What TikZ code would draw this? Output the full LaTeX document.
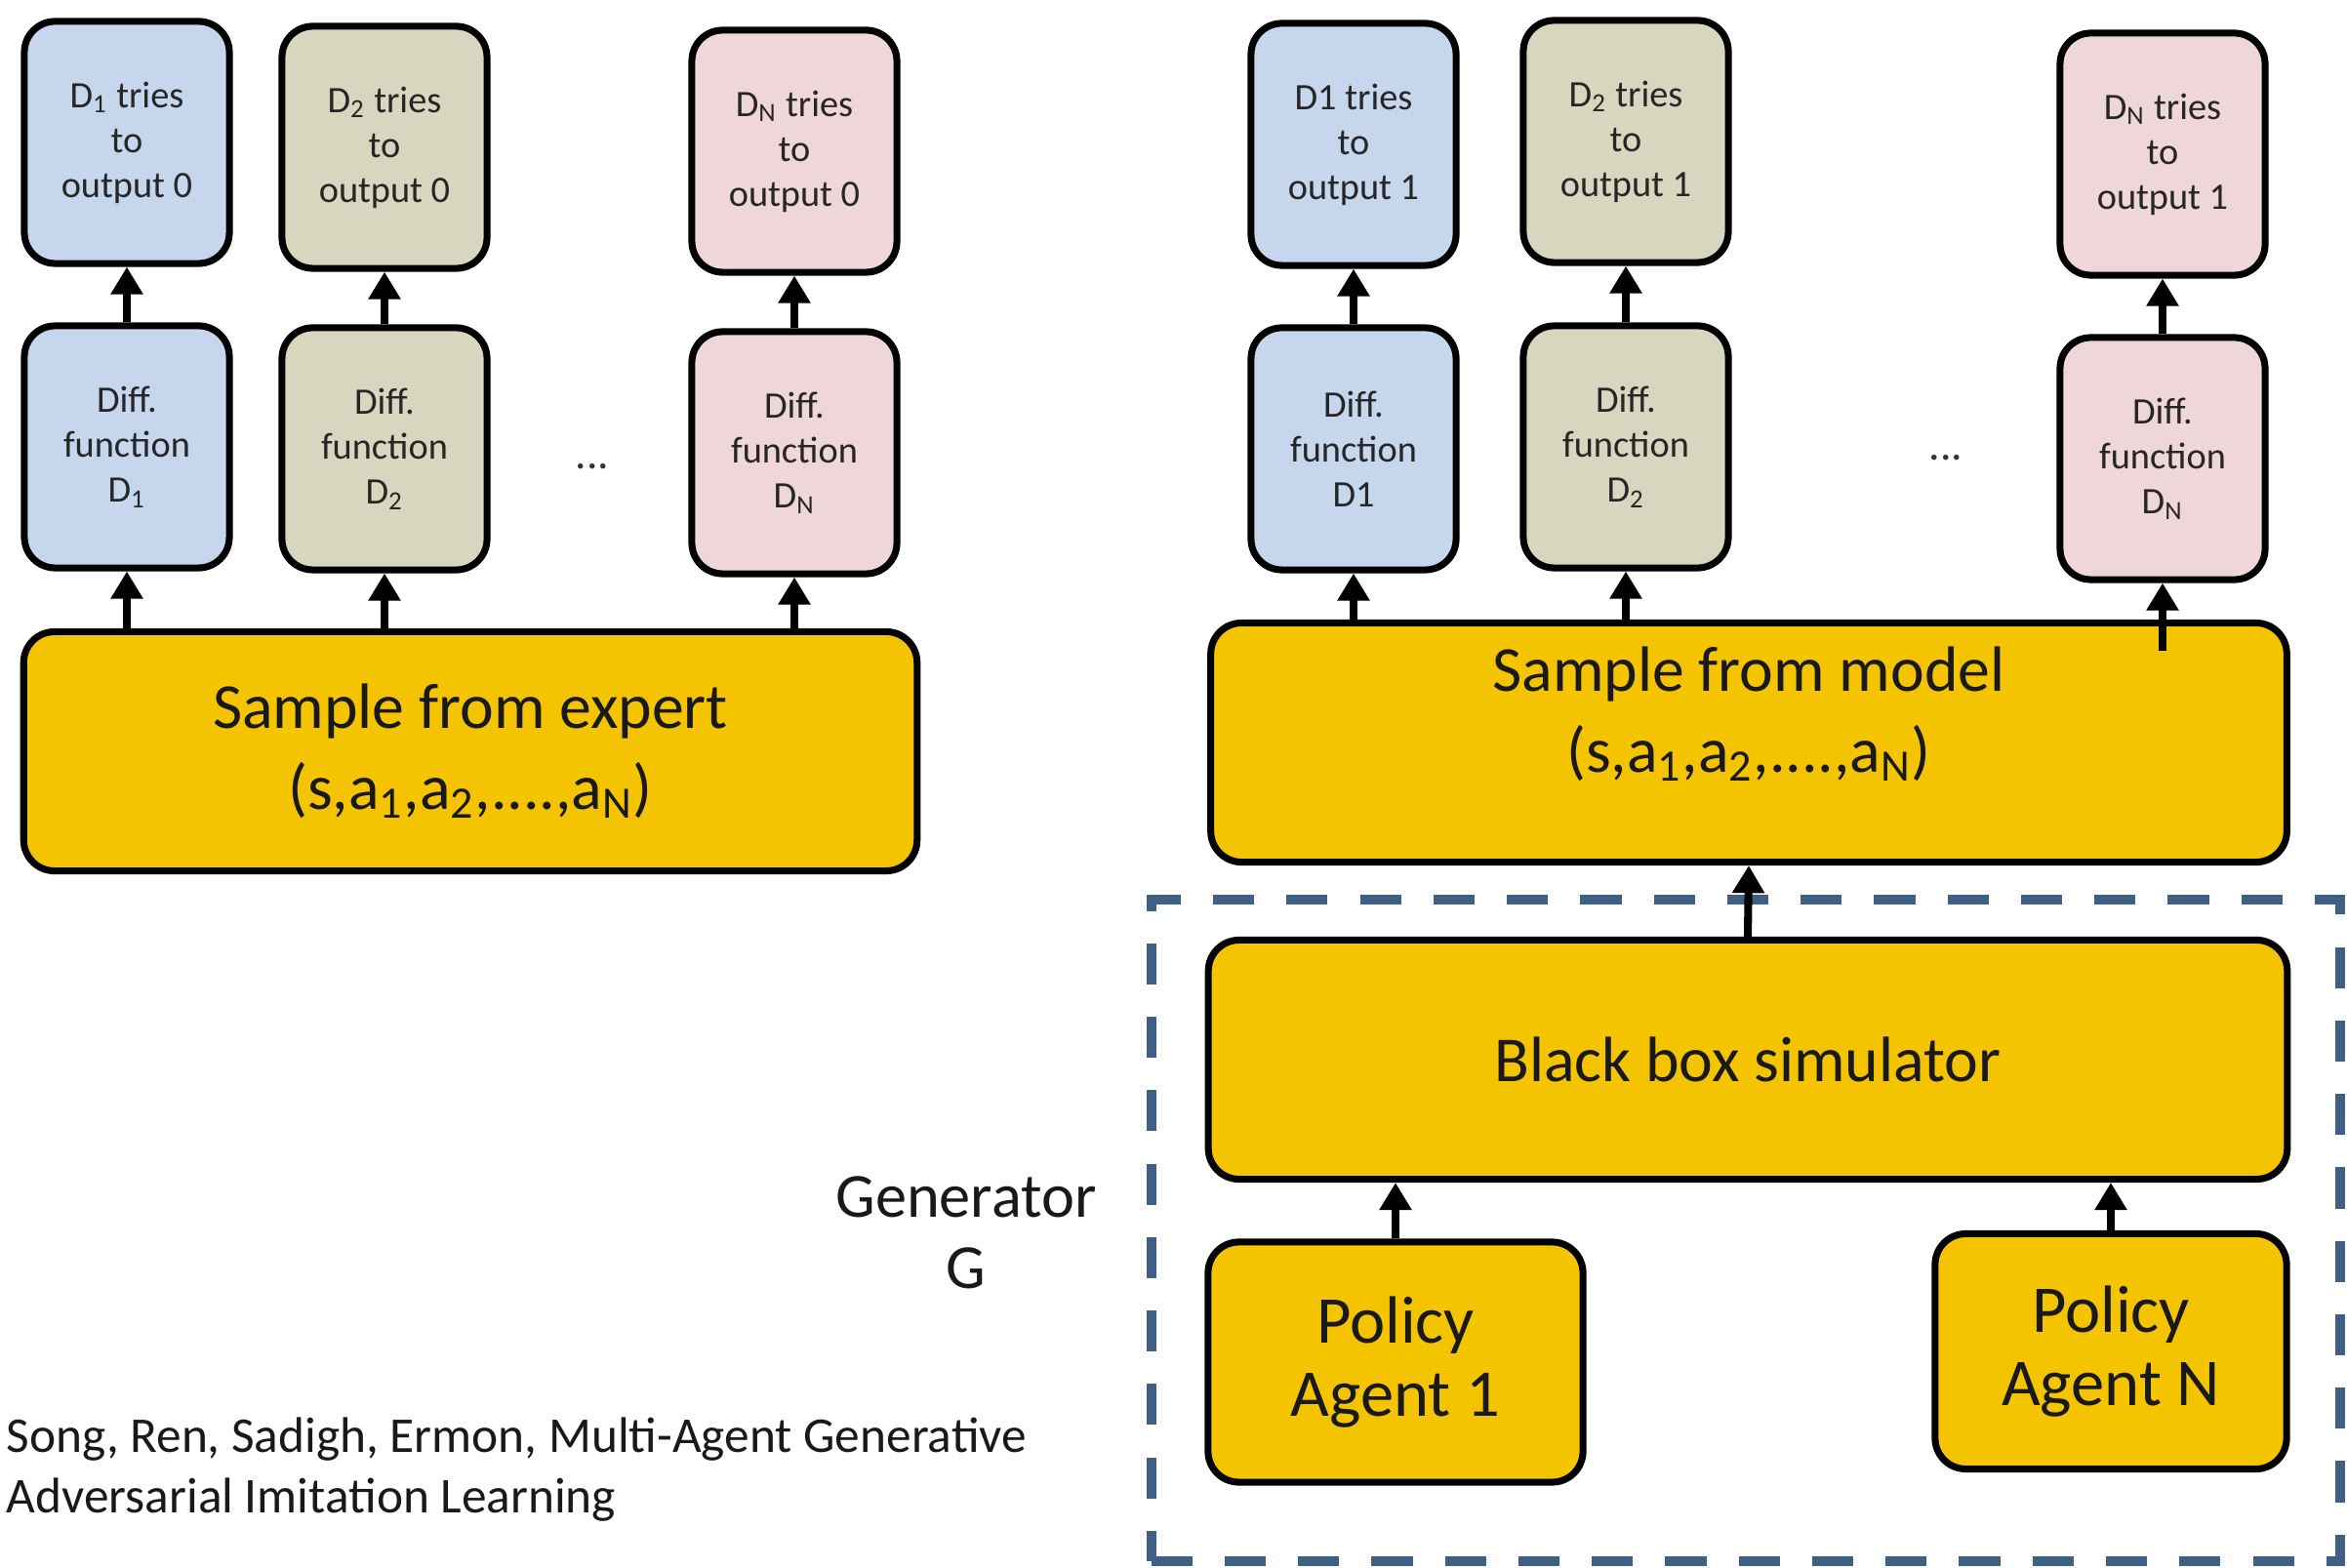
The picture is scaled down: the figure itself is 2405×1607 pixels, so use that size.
\documentclass[tikz,border=0pt]{standalone}
\usepackage{fontspec}
\setmainfont{Carlito}
\usetikzlibrary{arrows.meta}
\definecolor{dblue}{RGB}{198,214,237}
\definecolor{dolive}{RGB}{216,214,191}
\definecolor{dpink}{RGB}{239,214,216}
\definecolor{gold}{RGB}{245,196,0}
\definecolor{gframe}{RGB}{62,96,134}
\begin{document}
\begin{tikzpicture}[x=0.01cm,y=-0.01cm,
  box/.style={draw=black, line width=2pt, rounded corners=9pt, inner sep=0pt, align=center, text=black!85},
  smallbox/.style={box, minimum width=2.1cm, minimum height=2.48cm, font=\fontsize{10.9}{13.1}\selectfont},
  bigbox/.style={box, fill=gold, text=black!90, font=\fontsize{18.7}{23.5}\selectfont},
  arr/.style={line width=2.3pt, -{Triangle[width=9pt,length=8pt]}},
  dots/.style={font=\fontsize{13}{15}\selectfont, text=black!80}
]
\useasboundingbox (0,0) rectangle (2405,1607);

% ---- expert side ----
\node[smallbox, fill=dblue]  (lt1) at (130,146) {D\textsubscript{1} tries\\to\\output 0};
\node[smallbox, fill=dolive] (lt2) at (394,151) {D\textsubscript{2} tries\\to\\output 0};
\node[smallbox, fill=dpink]  (lt3) at (814,155) {D\textsubscript{N} tries\\to\\output 0};
\node[smallbox, fill=dblue]  (ld1) at (130,458) {Diff.\\function\\D\textsubscript{1}};
\node[smallbox, fill=dolive] (ld2) at (394,460) {Diff.\\function\\D\textsubscript{2}};
\node[smallbox, fill=dpink]  (ld3) at (814,464) {Diff.\\function\\D\textsubscript{N}};
\node[dots] (ldots) at (607,478) {...};
\node[bigbox, minimum width=9.15cm, minimum height=2.45cm] (se) at (482,770)
  {Sample from expert\\(s,a\textsubscript{1},a\textsubscript{2},....,a\textsubscript{N})};

\foreach \i in {1,2,3} {
  \draw[arr] (se.north -| ld\i.south) -- (ld\i.south);
  \draw[arr] (ld\i.north) -- (lt\i.south);
}

% ---- model side ----
\node[smallbox, fill=dblue]  (rt1) at (1387,148) {D1 tries\\to\\output 1};
\node[smallbox, fill=dolive] (rt2) at (1666,145) {D\textsubscript{2} tries\\to\\output 1};
\node[smallbox, fill=dpink]  (rt3) at (2216,158) {D\textsubscript{N} tries\\to\\output 1};
\node[smallbox, fill=dblue]  (rd1) at (1387,460) {Diff.\\function\\D1};
\node[smallbox, fill=dolive] (rd2) at (1666,458) {Diff.\\function\\D\textsubscript{2}};
\node[smallbox, fill=dpink]  (rd3) at (2216,470) {Diff.\\function\\D\textsubscript{N}};
\node[dots] (rdots) at (1994,469) {...};
\node[bigbox, minimum width=11.02cm, minimum height=2.45cm] (sm) at (1792,761) {};
\node[font=\fontsize{18.7}{23.5}\selectfont, align=center, text=black!90] (smtext) at (1792,732)
  {Sample from model\\(s,a\textsubscript{1},a\textsubscript{2},....,a\textsubscript{N})};

\foreach \i in {1,2} {
  \draw[arr] (sm.north -| rd\i.south) -- (rd\i.south);
  \draw[arr] (rd\i.north) -- (rt\i.south);
}
\coordinate (sm3) at ([yshift=-9pt]sm.north -| rd3.south);
\draw[arr] (sm3) -- (rd3.south);
\draw[arr] (rd3.north) -- (rt3.south);

% ---- generator ----
\node[draw=gframe, line width=2.8pt, dash pattern=on 12pt off 9.4pt, minimum width=12.18cm, minimum height=6.78cm, inner sep=0pt] (genframe) at (1789,1261) {};
\node[bigbox, minimum width=11.05cm, minimum height=2.45cm] (bb) at (1791,1086) {Black box simulator};
\node[bigbox, minimum width=3.84cm, minimum height=2.46cm, font=\fontsize{19.5}{21.5}\selectfont] (pa1) at (1430,1396) {Policy\\Agent 1};
\node[bigbox, minimum width=3.6cm, minimum height=2.41cm, font=\fontsize{19.5}{21.5}\selectfont] (pan) at (2163,1385) {Policy\\Agent N};

\draw[arr] (bb.north) -- (sm.south);
\draw[arr] (pa1.north) -- (pa1.north |- bb.south);
\draw[arr] (pan.north) -- (pan.north |- bb.south);

\node[font=\fontsize{18.3}{20.8}\selectfont, align=center, text=black!90] (gen) at (990,1263) {Generator\\G};

\node[anchor=west, align=left, inner sep=0pt, font=\fontsize{14.6}{17.6}\selectfont, text=black!90] (cite) at (6,1506)
  {Song, Ren, Sadigh, Ermon, Multi-Agent Generative\\Adversarial Imitation Learning};
\end{tikzpicture}
\end{document}
